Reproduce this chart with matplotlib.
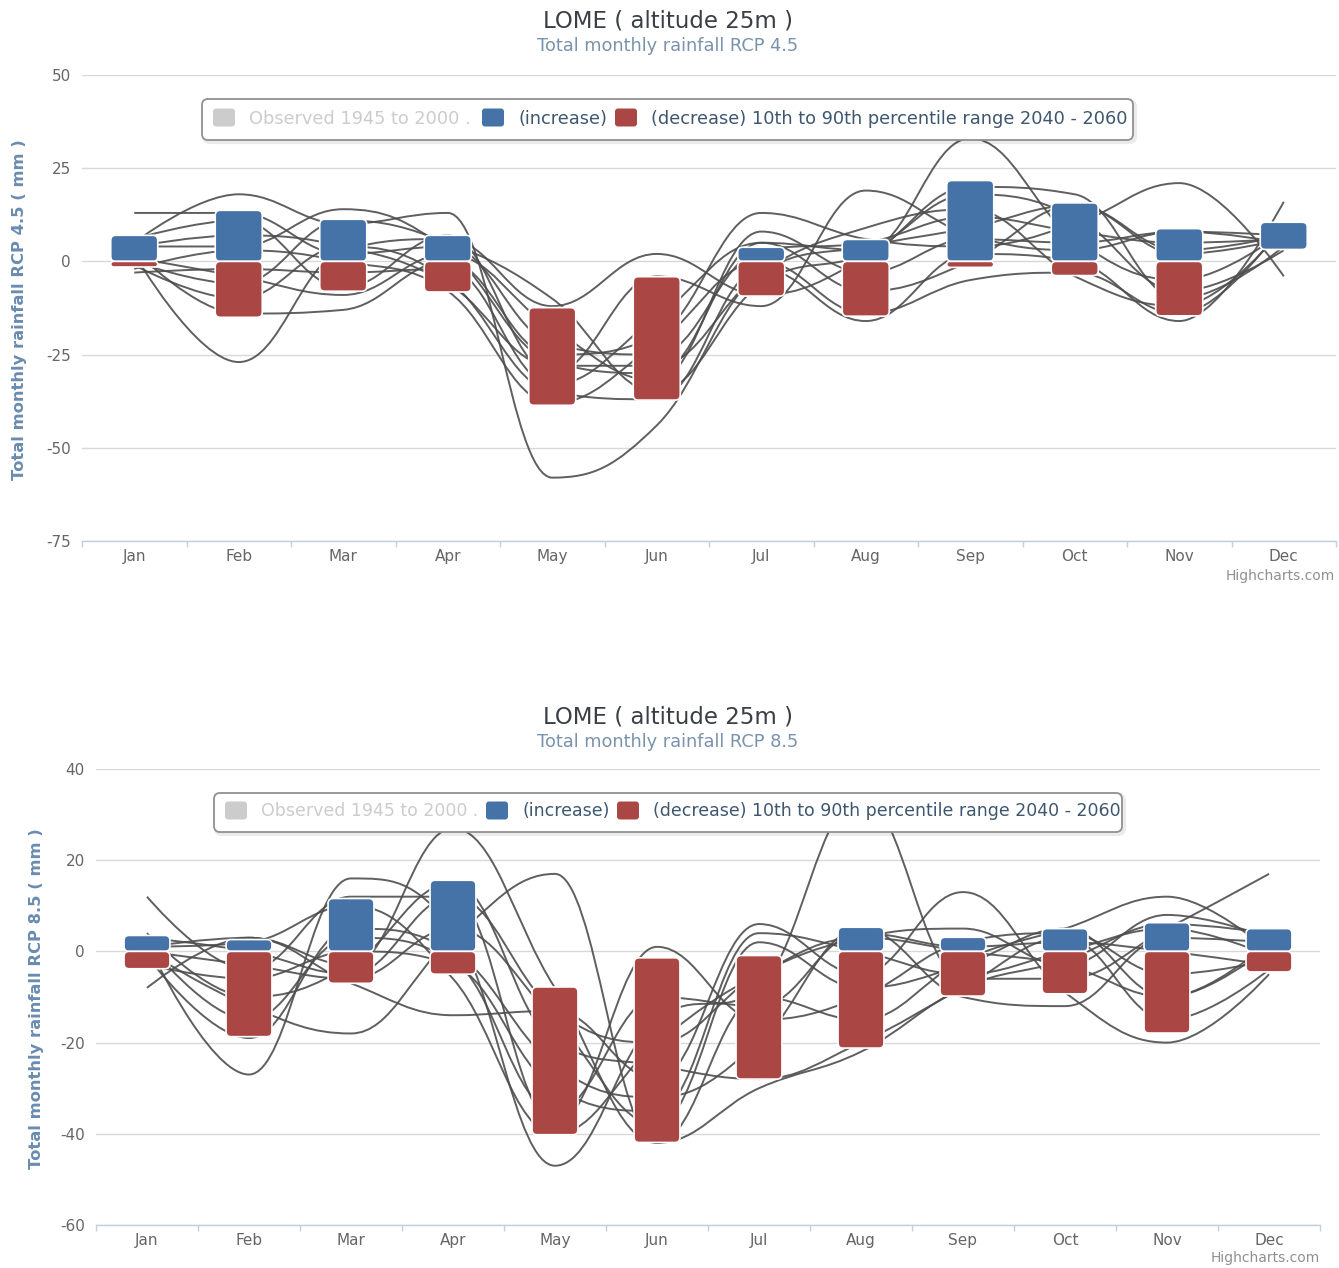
import matplotlib
matplotlib.use("Agg")
import matplotlib.pyplot as plt
from matplotlib.path import Path
from matplotlib.patches import PathPatch, FancyBboxPatch
from matplotlib.transforms import Affine2D

W, H = 1339, 1268

months = ["Jan", "Feb", "Mar", "Apr", "May", "Jun",
          "Jul", "Aug", "Sep", "Oct", "Nov", "Dec"]

# 10th-90th percentile change in monthly rainfall (mm), 2040-2060
rcp45_low = [-1.5, -15.0, -8.0, -8.2, -38.6, -37.2, -9.3, -14.7, -1.6, -3.8, -14.6, 3.2]
rcp45_high = [7.0, 13.7, 11.3, 7.0, -12.4, -4.1, 3.8, 5.9, 21.7, 15.7, 8.8, 10.5]

rcp85_low = [-3.8, -18.7, -7.0, -5.0, -40.2, -41.9, -28.0, -21.2, -9.8, -9.3, -17.9, -4.5]
rcp85_high = [3.5, 2.6, 11.6, 15.6, -7.8, -1.4, -0.9, 5.3, 3.1, 5.0, 6.3, 5.0]

# individual model runs, RCP 4.5
rcp45_runs = [
    [13, 13, 2, 4, -22, -25, 3, 5, 12, 8, 5, 6],
    [5, 18, 10, 13, -58, -44, -3, 4, 9, 15, 3, 7],
    [4, 4, 14, 3, -27, -30, 5, 3, 33, 6, -5, 8],
    [2, -27, 3, 6, -12, 2, -9, 1, 20, 18, -10, 4],
    [3, -14, -13, 0, -25, -20, 13, 6, 4, 10, 21, -4],
    [-1, -10, 4, -5, -35, -37, -2, -16, 2, 0, -16, 16],
    [6, 11, -7, 7, -30, -4, -12, 19, 7, 3, 8, 5],
    [-2, 3, 0, -8, -38, -22, 0, -14, -5, -3, -14, 10],
    [0, -6, 11, 5, -10, -35, -6, 2, 18, 12, -8, 3],
    [-3, -2, -3, -2, -33, -15, 5, -8, 0, 15, 2, 6],
    [4, 7, 4, -6, -28, -28, -3, 9, 14, -4, -12, 9],
    [1, -4, -9, 2, -18, -32, 8, -3, 6, 5, 8, 7],
]

# individual model runs, RCP 8.5
rcp85_runs = [
    [12, -4, 12, 12, -13, -20, -5, 3, 0, -3, -10, 2],
    [-8, 3, -3, 27, -8, -42, -30, -22, -8, -2, 6, 4],
    [2, -27, 16, 5, -47, -15, -8, 34, -6, -6, 5, 17],
    [1, 3, -7, -14, -13, -28, 6, -5, 13, -9, -20, -5],
    [0, -12, -18, 3, 17, -42, -10, -15, -2, 5, 12, 0],
    [-1, -19, 5, 0, -25, -32, -20, 5, -10, -12, 3, 2],
    [3, 0, -5, 12, -38, 1, -15, -10, 2, 4, -5, -2],
    [-3, -6, 0, -3, -30, -35, 4, 0, -5, 0, 5, -1],
    [4, -10, -3, 15, -20, -25, -28, -20, -8, 3, -15, -4],
    [1, 2, 10, -6, -40, -20, -5, 3, 5, -3, 8, 3],
    [0, -3, -6, 5, -15, -38, 2, -8, -3, 5, -10, 1],
    [2, -15, 3, -2, -35, -10, -12, 4, 1, 2, 0, -3],
]

legend_labels = ["Observed 1945 to 2000 .", "(increase)",
                 "(decrease) 10th to 90th percentile range 2040 - 2060"]

BLUE = "#4572A7"
RED = "#AA4643"
GRID = "#D8D8D8"
AXIS = "#C0D0E0"
LABEL = "#666666"
plt.rcParams["font.family"] = ["DejaVu Sans"]

fig = plt.figure(figsize=(W / 100, H / 100), dpi=100)
fig.patch.set_facecolor("white")

# pixel coordinates measured from the top-left corner of the figure
pxT = Affine2D().scale(1 / 100, -1 / 100).translate(0, H / 100) + fig.dpi_scale_trans


def spline_path(xs, ys, smoothing=1.5):
    """Smooth curve through the points, with horizontal tangents at local extremes."""
    n = len(xs)
    lc = [None] * n
    rc = [None] * n
    d = smoothing + 1
    for i in range(1, n - 1):
        px, py = xs[i], ys[i]
        lx, ly = xs[i - 1], ys[i - 1]
        nx, ny = xs[i + 1], ys[i + 1]
        lcx, lcy = (smoothing * px + lx) / d, (smoothing * py + ly) / d
        rcx, rcy = (smoothing * px + nx) / d, (smoothing * py + ny) / d
        if rcx != lcx:
            corr = (rcy - lcy) * (rcx - px) / (rcx - lcx) + py - rcy
            lcy += corr
            rcy += corr
        if lcy > ly and lcy > py:
            lcy = max(ly, py); rcy = 2 * py - lcy
        elif lcy < ly and lcy < py:
            lcy = min(ly, py); rcy = 2 * py - lcy
        if rcy > ny and rcy > py:
            rcy = max(ny, py); lcy = 2 * py - rcy
        elif rcy < ny and rcy < py:
            rcy = min(ny, py); lcy = 2 * py - rcy
        lc[i] = (lcx, lcy)
        rc[i] = (rcx, rcy)
    verts = [(xs[0], ys[0])]
    codes = [Path.MOVETO]
    for i in range(1, n):
        c1 = rc[i - 1] if rc[i - 1] is not None else (xs[i - 1], ys[i - 1])
        c2 = lc[i] if lc[i] is not None else (xs[i], ys[i])
        verts += [c1, c2, (xs[i], ys[i])]
        codes += [Path.CURVE4] * 3
    return Path(verts, codes)


def legend_box(x0, y0, x1, y1, offsets, fsize):
    shadow = FancyBboxPatch((x0 + 2, y0 + 2), x1 - x0, y1 - y0,
                            boxstyle="round,pad=0,rounding_size=6",
                            transform=pxT, facecolor="none", edgecolor="#000000",
                            lw=3, alpha=0.08, zorder=20)
    box = FancyBboxPatch((x0, y0), x1 - x0, y1 - y0,
                         boxstyle="round,pad=0,rounding_size=6",
                         transform=pxT, facecolor="white", edgecolor="#909090",
                         lw=1.3, zorder=21)
    fig.add_artist(shadow)
    fig.add_artist(box)
    yc = (y0 + y1) / 2 - 2
    colours = [("#CCCCCC", "#CCCCCC"), (BLUE, "#3E576F"), (RED, "#3E576F")]
    for off, (col, tcol), txt in zip(offsets, colours, legend_labels):
        sx = x0 + off
        sym = FancyBboxPatch((sx, yc - 9), 22, 18,
                             boxstyle="round,pad=0,rounding_size=3",
                             transform=pxT, facecolor=col, edgecolor="none", zorder=22)
        fig.add_artist(sym)
        fig.text(sx + 36, yc + 1, txt, transform=pxT, color=tcol, fontsize=fsize,
                 ha="left", va="center", zorder=23)


def panel(box, ylim, yticks, low, high, runs, title_y, rcp, ytitle_x, credit_xy,
          leg, leg_offsets, leg_size):
    l, t, r, b = box
    ax = fig.add_axes([l / W, 1 - b / H, (r - l) / W, (b - t) / H])
    ax.set_xlim(-0.5, 11.5)
    ax.set_ylim(*ylim)
    ax.set_facecolor("none")
    for s in ("top", "right", "left"):
        ax.spines[s].set_visible(False)
    ax.spines["bottom"].set_color(AXIS)
    ax.spines["bottom"].set_linewidth(1)
    ax.set_yticks(yticks)
    ax.set_yticklabels([str(v) for v in yticks])
    ax.tick_params(axis="y", length=0, pad=8, labelsize=11, labelcolor=LABEL)
    ax.set_xticks(range(12))
    ax.set_xticklabels(months)
    ax.tick_params(axis="x", which="major", length=0, pad=6, labelsize=11, labelcolor=LABEL)
    ax.set_xticks([i + 0.5 for i in range(-1, 12)], minor=True)
    ax.tick_params(axis="x", which="minor", length=4, width=1, color=AXIS, direction="out")
    ax.grid(axis="y", color=GRID, lw=1)
    ax.set_axisbelow(True)

    xs = list(range(12))
    for run in runs:
        p = PathPatch(spline_path(xs, run), facecolor="none", edgecolor="#4D4D4D",
                      lw=1.4, alpha=0.9, zorder=3)
        ax.add_patch(p)

    # rounded columns: radius expressed in pixels
    wp, hp = r - l, b - t
    xu = 12 / wp
    yu = (ylim[1] - ylim[0]) / hp
    asp = yu / xu
    bw = 0.45
    rad = 5 * xu

    def rbar(xc, y0, y1, col):
        h = y1 - y0
        if h <= 0:
            return
        dr = min(rad, bw / 2, h / asp / 2)
        patch = FancyBboxPatch((xc - bw / 2, y0), bw, h,
                               boxstyle=f"round,pad=0,rounding_size={dr}",
                               mutation_aspect=asp, facecolor=col,
                               edgecolor="white", lw=1.2, zorder=5)
        ax.add_patch(patch)

    for i in range(12):
        lo, hi = low[i], high[i]
        if hi > 0:
            rbar(i, max(lo, 0), hi, BLUE)
        if lo < 0:
            rbar(i, lo, min(hi, 0), RED)

    fig.text(668, title_y, "LOME ( altitude 25m )", transform=pxT, ha="center",
             va="center", fontsize=16.5, color="#3A3F45")
    fig.text(668, title_y + 25, f"Total monthly rainfall RCP {rcp}", transform=pxT,
             ha="center", va="center", fontsize=12.8, color="#7A93AD")
    fig.text(ytitle_x, (t + b) / 2 + 2, f"Total monthly rainfall RCP {rcp} ( mm )",
             transform=pxT, ha="center", va="center", rotation=90, fontsize=11.8,
             fontweight="bold", color="#6A8CB0")
    fig.text(credit_xy[0], credit_xy[1], "Highcharts.com", transform=pxT, ha="right",
             va="center", fontsize=10, color="#909090")
    legend_box(*leg, leg_offsets, leg_size)
    return ax


panel((82, 75, 1336, 541), (-75, 50), [-75, -50, -25, 0, 25, 50],
      rcp45_low, rcp45_high, rcp45_runs, 21, "4.5", 20, (1335, 576),
      (202, 99, 1133, 140), (11, 280, 413), 12.8)
panel((96, 769, 1320, 1225), (-60, 40), [-60, -40, -20, 0, 20, 40],
      rcp85_low, rcp85_high, rcp85_runs, 717, "8.5", 37, (1320, 1258),
      (214, 793, 1122, 832), (11, 272, 403), 12.5)

fig.savefig("out.png", dpi=100, facecolor="white")
